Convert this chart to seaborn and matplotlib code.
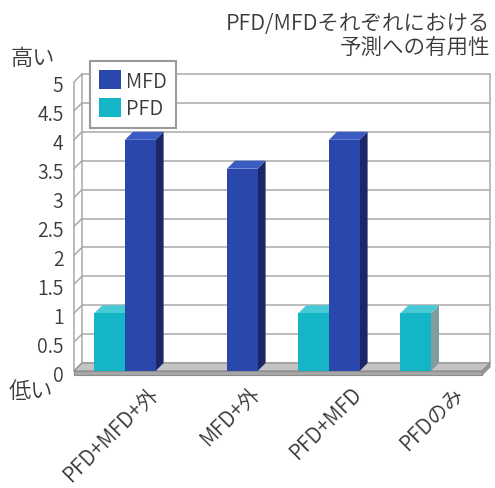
import matplotlib
matplotlib.use("Agg")
import matplotlib.pyplot as plt
import matplotlib.transforms as mtransforms
from matplotlib.patches import Polygon, Patch
import pandas as pd
import seaborn as sns

# --- data -------------------------------------------------------------
categories = ["PFD+MFD+外", "MFD+外", "PFD+MFD", "PFDのみ"]
mfd_values = [4, 3.5, 4, 0]
pfd_values = [1, 0, 1, 1]
series_order = ["PFD", "MFD"]          # left-to-right inside each group
legend_order = ["MFD", "PFD"]
y_ticks = [0, 0.5, 1, 1.5, 2, 2.5, 3, 3.5, 4, 4.5, 5]
y_tick_labels = ["0", "0.5", "1", "1.5", "2", "2.5", "3", "3.5", "4", "4.5", "5"]
title_text = "PFD/MFDそれぞれにおける\n予測への有用性"
high_text = "高い"
low_text = "低い"

# --- styling ----------------------------------------------------------
front_colors = {"MFD": "#2a48ab", "PFD": "#14b5c6"}
top_colors = {"MFD": "#3b5cc2", "PFD": "#48cad6"}
side_colors = {"MFD": "#1b2766", "PFD": "#7f9da1"}
text_color = "#3a3a3a"
grid_color = "#a9a9a9"
DEPTH_PX = 8

sns.set_theme(style="white")
plt.rcParams["font.family"] = ["Noto Sans CJK JP", "DejaVu Sans"]
plt.rcParams["font.weight"] = 350

df = pd.DataFrame({
    "category": categories * 2,
    "series": ["MFD"] * len(categories) + ["PFD"] * len(categories),
    "value": mfd_values + pfd_values,
})

W, H, DPI = 495, 489, 100
fig = plt.figure(figsize=(W / DPI, H / DPI), dpi=DPI)
fig.patch.set_facecolor("white")
ax = fig.add_axes([74 / W, 1 - 372 / H, 408 / W, 289 / H])

sns.barplot(data=df, x="category", y="value", hue="series",
            hue_order=series_order, order=categories,
            palette=front_colors, saturation=1, width=0.6, errorbar=None,
            legend=False, ax=ax, zorder=3, linewidth=0)

ax.set_xlim(-0.5, len(categories) - 0.5)
ax.set_ylim(0, 5)
ax.set_xlabel("")
ax.set_ylabel("")
for s in ax.spines.values():
    s.set_visible(False)
ax.set_facecolor("none")

# depth of the pseudo-3D box in data units
ax_w_px = 408
ax_h_px = 289
dx = DEPTH_PX * (len(categories)) / ax_w_px
dy = DEPTH_PX * 5 / ax_h_px
x0, x1 = ax.get_xlim()

# back wall gridlines, left wall connectors
for v in y_ticks:
    ax.plot([x0 + dx, x1 + dx], [v + dy, v + dy], color=grid_color,
            lw=1.1, zorder=0.5, clip_on=False)
    ax.plot([x0, x0 + dx], [v, v + dy], color=grid_color,
            lw=1.1, zorder=0.5, clip_on=False)
ax.plot([x0, x0], [0, 5], color=grid_color, lw=1.1, zorder=0.5, clip_on=False)
ax.plot([x0 + dx, x0 + dx], [dy, 5 + dy], color=grid_color, lw=1.1,
        zorder=0.5, clip_on=False)
ax.plot([x1 + dx, x1 + dx], [dy, 5 + dy], color=grid_color, lw=1.1,
        zorder=0.5, clip_on=False)

# floor slab
slab = 4 * 5 / ax_h_px
ax.add_patch(Polygon([[x0, 0], [x0 + dx, dy], [x1 + dx, dy], [x1, 0]],
                     closed=True, facecolor="#c4c4c4", edgecolor="#8c8c8c",
                     lw=0.8, zorder=1, clip_on=False))
ax.add_patch(Polygon([[x0, 0], [x1, 0], [x1, -slab], [x0, -slab]],
                     closed=True, facecolor="#a8a8a8", edgecolor="#8c8c8c",
                     lw=0.8, zorder=1, clip_on=False))
ax.add_patch(Polygon([[x1, 0], [x1 + dx, dy], [x1 + dx, dy - slab], [x1, -slab]],
                     closed=True, facecolor="#9a9a9a", edgecolor="#8c8c8c",
                     lw=0.8, zorder=1, clip_on=False))

# top and side faces of each bar
for name, container in zip(series_order, ax.containers):
    for bar in container:
        h = bar.get_height()
        if h <= 0:
            continue
        xl = bar.get_x()
        xr = xl + bar.get_width()
        ax.add_patch(Polygon([[xr, 0], [xr + dx, dy], [xr + dx, h + dy], [xr, h]],
                             closed=True, facecolor=side_colors[name],
                             edgecolor="none", zorder=2, clip_on=False))
        ax.add_patch(Polygon([[xl, h], [xl + dx, h + dy], [xr + dx, h + dy], [xr, h]],
                             closed=True, facecolor=top_colors[name],
                             edgecolor="none", zorder=2, clip_on=False))

# ticks
ax.set_yticks(y_ticks)
ax.set_yticklabels(y_tick_labels)
ax.tick_params(axis="y", length=0, pad=7.5, labelsize=14, labelcolor=text_color)
ax.set_xticks(range(len(categories)))
ax.set_xticklabels(categories)
ax.tick_params(axis="x", length=0, pad=13, labelsize=15, labelcolor=text_color)
for lab in ax.get_yticklabels():
    lab.set_transform(lab.get_transform() +
                      mtransforms.ScaledTranslation(0, -1.5 / DPI, fig.dpi_scale_trans))
for lab in ax.get_xticklabels():
    lab.set_rotation(45)
    lab.set_ha("right")
    lab.set_va("center")
    lab.set_rotation_mode("anchor")
    lab.set_transform(lab.get_transform() +
                      mtransforms.ScaledTranslation(30 / DPI, 0, fig.dpi_scale_trans))

# legend
handles = [Patch(facecolor=front_colors[n], edgecolor="none", label=n)
           for n in legend_order]
leg = fig.legend(handles=handles, loc="upper left",
                 bbox_to_anchor=(90 / W, 1 - 62 / H),
                 bbox_transform=fig.transFigure, borderaxespad=0,
                 fontsize=14.5, handlelength=1.1, handleheight=1.1,
                 handletextpad=0.25, labelspacing=0.3, borderpad=0.45,
                 fancybox=False, frameon=True, labelcolor=text_color)
leg.get_frame().set_edgecolor("#9a9a9a")
leg.get_frame().set_linewidth(1.5)
leg.get_frame().set_facecolor("white")
leg.get_frame().set_alpha(1)

# title and scale words
fig.text(490 / W, 1 - 13 / H, title_text, ha="right", va="top",
         fontsize=15.5, color=text_color, linespacing=1.1)
fig.text(11 / W, 1 - 59 / H, high_text, ha="left", va="center",
         fontsize=16, color=text_color)
fig.text(9 / W, 1 - 392 / H, low_text, ha="left", va="center",
         fontsize=16, color=text_color)

fig.savefig("out.png", dpi=DPI)
